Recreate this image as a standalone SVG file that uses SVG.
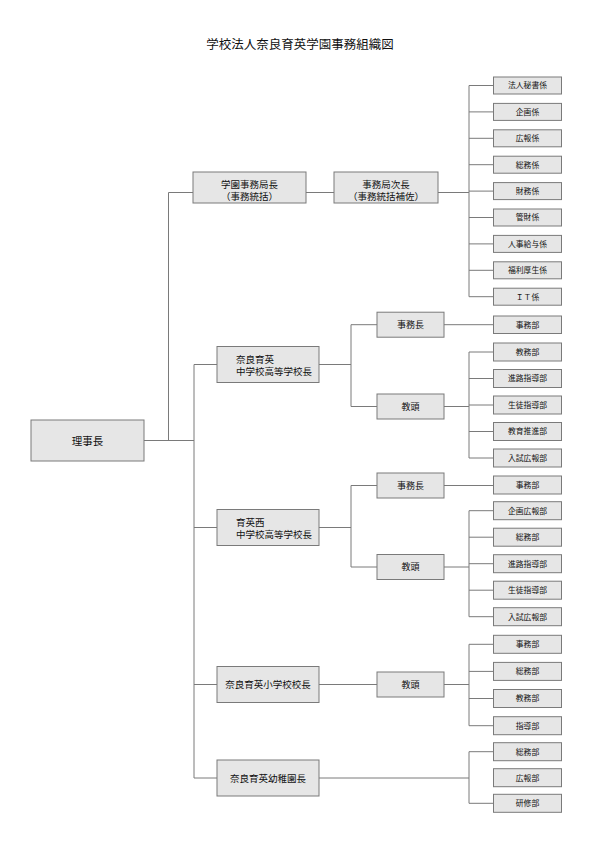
<svg xmlns="http://www.w3.org/2000/svg" width="596" height="842" viewBox="0 0 596 842">
<style>
.b{fill:#e6e6e6;stroke:#7a7a7a;stroke-width:1}
.t{font-family:"Noto Sans CJK JP","Noto Sans CJK SC",sans-serif;fill:#111;text-anchor:middle}
.l{text-anchor:start}
.s{font-size:7.8px}
.m{font-size:9px}
.k{font-size:9.5px}
.c{stroke:#7a7a7a;stroke-width:1;fill:none}
</style>
<rect width="596" height="842" fill="#fff"/>
<text class="t" x="300" y="48.5" font-size="12.5">学校法人奈良育英学園事務組織図</text>
<g id="connectors" class="c">
<path d="M144 440.5H194M168.5 440.5V192.5H193M194 364.5V778M194 364.5H217M194 527.5H217M194 684.5H217M194 778H217"/>
<path d="M306 192.5H334M438 192.5H469M469 85.5V296.7"/>
<path d="M469 85.5H493.5M469 111.9H493.5M469 138.3H493.5M469 164.7H493.5M469 191.1H493.5M469 217.5H493.5M469 243.9H493.5M469 270.3H493.5M469 296.7H493.5"/>
<path d="M319 364.5H351M351 324.7V406.5M351 324.7H377M351 406.5H377M444 324.7H493.5M444 406.5H469M469 352V458"/>
<path d="M469 352H493.5M469 378.5H493.5M469 405H493.5M469 431.5H493.5M469 458H493.5"/>
<path d="M319 527.5H351M351 485.5V567M351 485.5H377M351 567H377M444 485.5H493.5M444 567H469M469 510.7V616.7"/>
<path d="M469 510.7H493.5M469 537.2H493.5M469 563.7H493.5M469 590.2H493.5M469 616.7H493.5"/>
<path d="M319 684.5H377M444 684.5H469M469 644.3V725.7M469 644.3H493.5M469 671.4H493.5M469 698.5H493.5M469 725.7H493.5"/>
<path d="M319 778H469M469 751.7V803.3M469 751.7H493.5M469 803.3H493.5"/>
</g>
<g id="rijicho"><rect class="b" x="31" y="420" width="113" height="41"/><text class="t" x="87.5" y="444.5" font-size="10.5">理事長</text></g>
<g id="gakuen-jimukyokucho"><rect class="b" x="193" y="172" width="113" height="31"/><text class="t k" x="249.5" y="187.5">学園事務局長</text><text class="t k" x="249.5" y="200">（事務統括）</text></g>
<g id="jimukyoku-jicho"><rect class="b" x="334" y="172" width="104" height="31"/><text class="t k" x="386" y="187.5">事務局次長</text><text class="t k" x="386" y="200">（事務統括補佐）</text></g>
<g id="kakari">
<g id="k1"><rect class="b" x="493.5" y="77" width="68" height="17"/><text class="t s" x="527.5" y="88.3">法人秘書係</text></g>
<g id="k2"><rect class="b" x="493.5" y="103.4" width="68" height="17"/><text class="t s" x="527.5" y="114.7">企画係</text></g>
<g id="k3"><rect class="b" x="493.5" y="129.8" width="68" height="17"/><text class="t s" x="527.5" y="141.1">広報係</text></g>
<g id="k4"><rect class="b" x="493.5" y="156.2" width="68" height="17"/><text class="t s" x="527.5" y="167.5">総務係</text></g>
<g id="k5"><rect class="b" x="493.5" y="182.6" width="68" height="17"/><text class="t s" x="527.5" y="193.9">財務係</text></g>
<g id="k6"><rect class="b" x="493.5" y="209" width="68" height="17"/><text class="t s" x="527.5" y="220.3">管財係</text></g>
<g id="k7"><rect class="b" x="493.5" y="235.4" width="68" height="17"/><text class="t s" x="527.5" y="246.7">人事給与係</text></g>
<g id="k8"><rect class="b" x="493.5" y="261.8" width="68" height="17"/><text class="t s" x="527.5" y="273.1">福利厚生係</text></g>
<g id="k9"><rect class="b" x="493.5" y="288.2" width="68" height="17"/><text class="t s" x="527.5" y="299.5">ＩＴ係</text></g>
</g>
<g id="naraikuei-chuko"><rect class="b" x="217" y="346.5" width="102" height="36"/><text class="t k l" x="236" y="362.5">奈良育英</text><text class="t k l" x="236" y="375">中学校高等学校長</text></g>
<g id="ni-jimucho"><rect class="b" x="377" y="312.2" width="67" height="25"/><text class="t m" x="410.5" y="328">事務長</text></g>
<g id="ni-kyoto"><rect class="b" x="377" y="394" width="67" height="25"/><text class="t m" x="410.5" y="409.8">教頭</text></g>
<g id="ni-jimubu"><rect class="b" x="493.5" y="316" width="68" height="17.5"/><text class="t s" x="527.5" y="327.5">事務部</text></g>
<g id="ni-kyomubu"><rect class="b" x="493.5" y="343" width="68" height="18"/><text class="t s" x="527.5" y="354.8">教務部</text></g>
<g id="ni-shinro"><rect class="b" x="493.5" y="369.5" width="68" height="18"/><text class="t s" x="527.5" y="381.3">進路指導部</text></g>
<g id="ni-seito"><rect class="b" x="493.5" y="396" width="68" height="18"/><text class="t s" x="527.5" y="407.8">生徒指導部</text></g>
<g id="ni-kyoiku"><rect class="b" x="493.5" y="422.5" width="68" height="18"/><text class="t s" x="527.5" y="434.3">教育推進部</text></g>
<g id="ni-nyushi"><rect class="b" x="493.5" y="449" width="68" height="18"/><text class="t s" x="527.5" y="460.8">入試広報部</text></g>
<g id="ikueinishi-chuko"><rect class="b" x="217" y="509.5" width="102" height="36"/><text class="t k l" x="236" y="525.5">育英西</text><text class="t k l" x="236" y="538">中学校高等学校長</text></g>
<g id="in-jimucho"><rect class="b" x="377" y="473" width="67" height="25"/><text class="t m" x="410.5" y="488.8">事務長</text></g>
<g id="in-kyoto"><rect class="b" x="377" y="554.5" width="67" height="25"/><text class="t m" x="410.5" y="570.3">教頭</text></g>
<g id="in-jimubu"><rect class="b" x="493.5" y="476" width="68" height="18"/><text class="t s" x="527.5" y="487.8">事務部</text></g>
<g id="in-kikaku"><rect class="b" x="493.5" y="501.7" width="68" height="18"/><text class="t s" x="527.5" y="513.5">企画広報部</text></g>
<g id="in-somu"><rect class="b" x="493.5" y="528.2" width="68" height="18"/><text class="t s" x="527.5" y="540">総務部</text></g>
<g id="in-shinro"><rect class="b" x="493.5" y="554.7" width="68" height="18"/><text class="t s" x="527.5" y="566.5">進路指導部</text></g>
<g id="in-seito"><rect class="b" x="493.5" y="581.2" width="68" height="18"/><text class="t s" x="527.5" y="593">生徒指導部</text></g>
<g id="in-nyushi"><rect class="b" x="493.5" y="607.7" width="68" height="18"/><text class="t s" x="527.5" y="619.5">入試広報部</text></g>
<g id="shogakko"><rect class="b" x="217" y="666.5" width="102" height="36"/><text class="t k" x="268" y="688">奈良育英小学校校長</text></g>
<g id="sh-kyoto"><rect class="b" x="377" y="672" width="67" height="25"/><text class="t m" x="410.5" y="687.8">教頭</text></g>
<g id="sh-jimubu"><rect class="b" x="493.5" y="635.3" width="68" height="18"/><text class="t s" x="527.5" y="647.1">事務部</text></g>
<g id="sh-somu"><rect class="b" x="493.5" y="662.4" width="68" height="18"/><text class="t s" x="527.5" y="674.2">総務部</text></g>
<g id="sh-kyomu"><rect class="b" x="493.5" y="689.5" width="68" height="18"/><text class="t s" x="527.5" y="701.3">教務部</text></g>
<g id="sh-shido"><rect class="b" x="493.5" y="716.7" width="68" height="18"/><text class="t s" x="527.5" y="728.5">指導部</text></g>
<g id="yochien"><rect class="b" x="217" y="760" width="102" height="36"/><text class="t k" x="268" y="781.5">奈良育英幼稚園長</text></g>
<g id="yo-somu"><rect class="b" x="493.5" y="742.7" width="68" height="18"/><text class="t s" x="527.5" y="754.5">総務部</text></g>
<g id="yo-koho"><rect class="b" x="493.5" y="768.7" width="68" height="18"/><text class="t s" x="527.5" y="780.5">広報部</text></g>
<g id="yo-kenshu"><rect class="b" x="493.5" y="794.3" width="68" height="18"/><text class="t s" x="527.5" y="806.1">研修部</text></g>
</svg>
